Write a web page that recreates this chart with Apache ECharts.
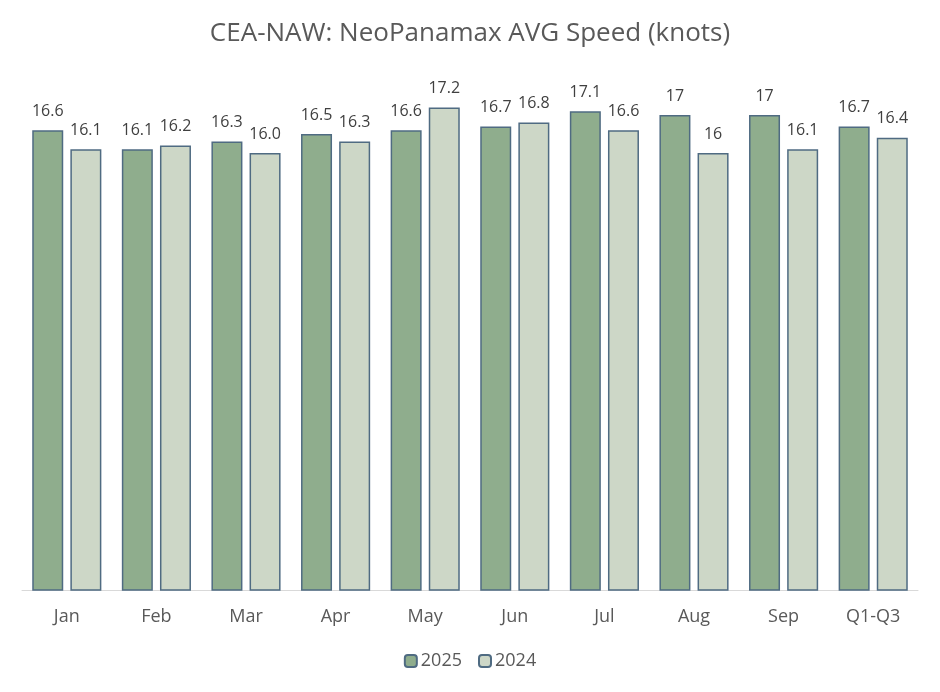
<!DOCTYPE html>
<html>
<head>
<meta charset="utf-8">
<script src="https://cdn.jsdelivr.net/npm/echarts@6/dist/echarts.min.js"></script>
<style>html,body{margin:0;padding:0;background:#fff}#c{width:940px;height:692px}</style>
</head>
<body>
<div id="c"></div>
<script>
const categories = ['Jan','Feb','Mar','Apr','May','Jun','Jul','Aug','Sep','Q1-Q3'];
const values2025 = [16.6,16.1,16.3,16.5,16.6,16.7,17.1,17.0,17.0,16.7];
const values2024 = [16.1,16.2,16.0,16.3,17.2,16.8,16.6,16.0,16.1,16.4];
const labels2025 = ['16.6','16.1','16.3','16.5','16.6','16.7','17.1','17','17','16.7'];
const labels2024 = ['16.1','16.2','16.0','16.3','17.2','16.8','16.6','16','16.1','16.4'];

const FONT = 'Open Sans';
const chart = echarts.init(document.getElementById('c'), null, {renderer:'canvas'});
function lbl(arr){
  return {show:true, position:'top', distance:11, color:'#404040', fontSize:16, fontFamily:FONT,
    formatter: p => arr[p.dataIndex]};
}
chart.setOption({
  animation:false,
  backgroundColor:'#fff',
  title:{text:'CEA-NAW: NeoPanamax AVG Speed (knots)', left:'center', top:16,
    textStyle:{fontFamily:FONT, fontSize:26, fontWeight:'normal', color:'#595959'}},
  legend:{bottom:17, left:'center', itemWidth:12, itemHeight:12, itemGap:16,
    textStyle:{fontFamily:FONT, fontSize:18, color:'#595959', padding:[0,0,0,-1]},
    data:['2025','2024']},
  grid:{left:22, right:22, top:77, bottom:102},
  xAxis:{type:'category', data:categories,
    axisLine:{lineStyle:{color:'#D9D9D9', width:1}}, axisTick:{show:false},
    axisLabel:{fontFamily:FONT, fontSize:18, color:'#595959', margin:18}},
  yAxis:{type:'value', min:4.5, max:18, show:false, splitLine:{show:false}},
  series:[
    {name:'2025', type:'bar', data:values2025, barWidth:31, barGap:'23%',
     itemStyle:{color:'#8FAD8D', borderColor:'#4F6B82', borderWidth:1.5},
     label:lbl(labels2025)},
    {name:'2024', type:'bar', data:values2024, barWidth:31,
     itemStyle:{color:'#CDD7C7', borderColor:'#4F6B82', borderWidth:1.5},
     label:lbl(labels2024)}
  ]
});
</script>
</body>
</html>
